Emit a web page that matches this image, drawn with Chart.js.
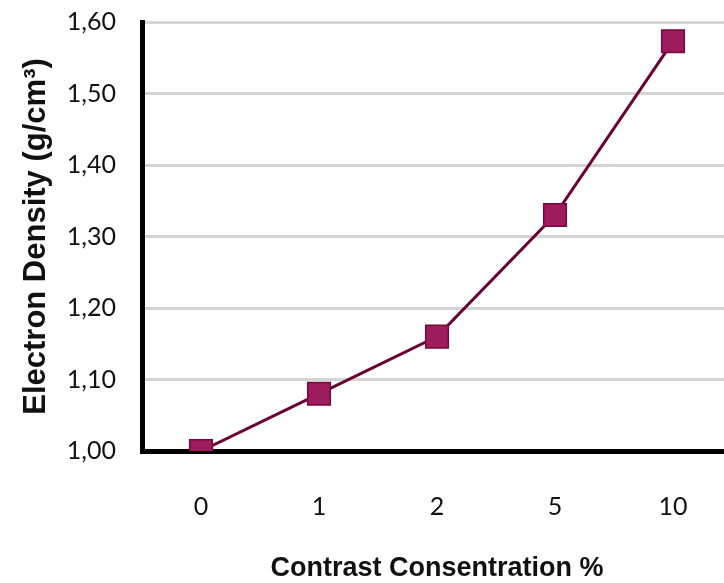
<!DOCTYPE html>
<html>
<head>
<meta charset="utf-8">
<script src="https://cdn.jsdelivr.net/npm/chart.js@4/dist/chart.umd.min.js"></script>
<style>
  html, body { margin: 0; padding: 0; background: #fff; overflow: hidden; }
  #wrap { width: 724px; height: 583px; overflow: hidden; }
  #densityChart { display: block; margin-top: -19px; }
</style>
</head>
<body>
<div id="wrap"><canvas id="densityChart" width="740" height="619"></canvas></div>
<script>
// data
const concentrations = ['0', '1', '2', '5', '10'];
const electronDensity = [1.00, 1.08, 1.16, 1.33, 1.573];
const yTicks = [1.0, 1.1, 1.2, 1.3, 1.4, 1.5, 1.6];

const ctx = document.getElementById('densityChart').getContext('2d');

const myChart = new Chart(ctx, {
  type: 'line',
  data: {
    labels: concentrations,
    datasets: [{
      data: electronDensity,
      borderColor: '#6b0034',
      borderWidth: 3,
      tension: 0,
      pointStyle: 'rect',
      pointRadius: 16,
      pointBackgroundColor: '#9e1b5e',
      pointBorderColor: '#74093f',
      pointBorderWidth: 1.5
    }]
  },
  options: {
    responsive: false,
    animation: false,
    layout: { autoPadding: false, padding: { top: 2, right: 8, bottom: 0, left: 0 } },
    plugins: {
      legend: { display: false },
      tooltip: { enabled: false }
    },
    scales: {
      x: {
        offset: true,
        grid: { display: false, drawTicks: false },
        border: { color: '#000', width: 5 },
        ticks: {
          padding: 41,
          color: '#111',
          font: { family: 'Lato', size: 25 }
        },
        title: {
          display: true,
          text: 'Contrast Consentration %',
          color: '#111',
          font: { family: 'Liberation Sans', size: 27, weight: 'bold' },
          padding: { top: 0, bottom: 15 }
        },
        afterFit: (scale) => { scale.height = 149; }
      },
      y: {
        min: 1.0,
        max: 1.6,
        afterBuildTicks: (scale) => {
          scale.ticks = yTicks.map(v => ({ value: v }));
        },
        grid: { color: '#d4d4d4', lineWidth: 3, drawTicks: false },
        border: { color: '#000', width: 5 },
        ticks: {
          padding: 26,
          color: '#111',
          font: { family: 'Lato', size: 25 },
          callback: (v) => Number(v).toFixed(2).replace('.', ',')
        },
        title: {
          display: true,
          text: 'Electron Density (g/cm³)',
          color: '#111',
          font: { family: 'Liberation Sans', size: 31, weight: 'bold' },
          padding: { top: 18, bottom: 0 }
        },
        afterFit: (scale) => { scale.width = 142; }
      }
    }
  }
});
</script>
</body>
</html>
